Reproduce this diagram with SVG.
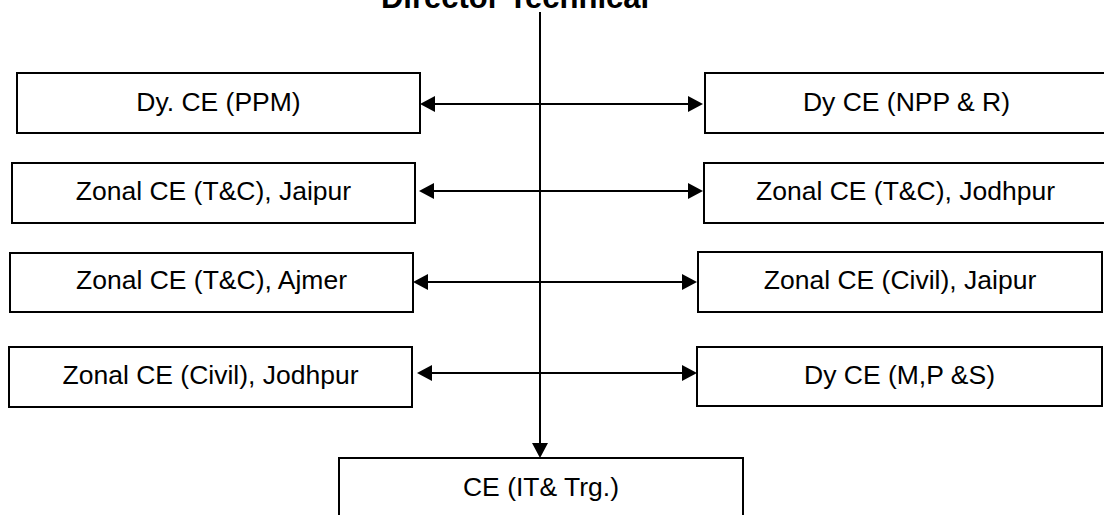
<svg xmlns="http://www.w3.org/2000/svg" width="1104" height="515" viewBox="0 0 1104 515">
<style>
.box{fill:#fff;stroke:#000;stroke-width:2}
.lbl{font-family:"Liberation Sans",Arial,sans-serif;font-size:26.5px;fill:#000;text-anchor:middle}
.title{font-family:"Liberation Sans",Arial,sans-serif;font-size:31px;font-weight:bold;fill:#000;text-anchor:middle}
.con{stroke:#000;stroke-width:2;fill:none}
</style>
<defs>
<marker id="ah" viewBox="0 0 15 16" refX="12" refY="8" markerWidth="15" markerHeight="16" markerUnits="userSpaceOnUse" orient="auto-start-reverse">
<path d="M0,0 L15,8 L0,16 z" fill="#000"/>
</marker>
</defs>
<rect width="1104" height="515" fill="#fff"/>
<g id="title"><text class="title" x="515" y="8">Director Technical</text></g>
<g id="n1"><rect class="box" x="17" y="73" width="403" height="60"/><text class="lbl" x="218.5" y="111">Dy. CE (PPM)</text></g>
<g id="n2"><rect class="box" x="705" y="73" width="403" height="60"/><text class="lbl" x="906.5" y="111">Dy CE (NPP &amp; R)</text></g>
<g id="n3"><rect class="box" x="12" y="163" width="403" height="60"/><text class="lbl" x="213.5" y="200">Zonal CE (T&amp;C), Jaipur</text></g>
<g id="n4"><rect class="box" x="704" y="163" width="403" height="60"/><text class="lbl" x="905.5" y="200">Zonal CE (T&amp;C), Jodhpur</text></g>
<g id="n5"><rect class="box" x="10" y="253" width="403" height="59"/><text class="lbl" x="211.5" y="289">Zonal CE (T&amp;C), Ajmer</text></g>
<g id="n6"><rect class="box" x="698" y="252" width="404" height="60"/><text class="lbl" x="900" y="289">Zonal CE (Civil), Jaipur</text></g>
<g id="n7"><rect class="box" x="9" y="347" width="403" height="60"/><text class="lbl" x="210.5" y="384">Zonal CE (Civil), Jodhpur</text></g>
<g id="n8"><rect class="box" x="697" y="347" width="405" height="59"/><text class="lbl" x="899.5" y="384">Dy CE (M,P &amp;S)</text></g>
<g id="n9"><rect class="box" x="339" y="458" width="404" height="70"/><text class="lbl" x="541" y="496">CE (IT&amp; Trg.)</text></g>
<g id="connectors">
<line class="con" x1="540" y1="12" x2="540" y2="455" marker-end="url(#ah)"/>
<line class="con" x1="423" y1="104" x2="700" y2="104" marker-start="url(#ah)" marker-end="url(#ah)"/>
<line class="con" x1="422" y1="191" x2="700" y2="191" marker-start="url(#ah)" marker-end="url(#ah)"/>
<line class="con" x1="416" y1="282" x2="694" y2="282" marker-start="url(#ah)" marker-end="url(#ah)"/>
<line class="con" x1="420" y1="373" x2="694" y2="373" marker-start="url(#ah)" marker-end="url(#ah)"/>
</g>
</svg>
